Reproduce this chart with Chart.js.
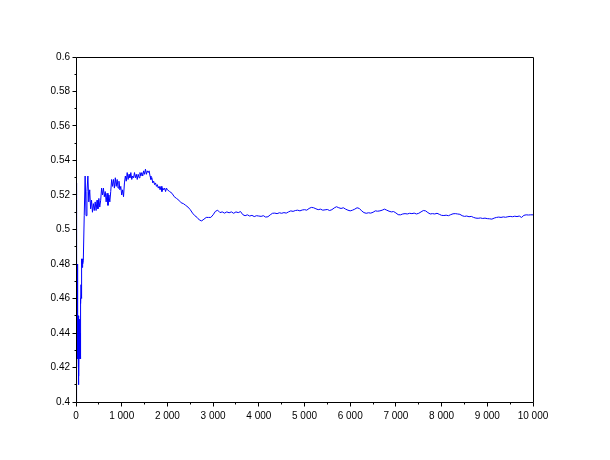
<!DOCTYPE html>
<html>
<head>
<meta charset="utf-8">
<script src="https://cdn.jsdelivr.net/npm/chart.js@4/dist/chart.umd.min.js"></script>
<style>
html,body{margin:0;padding:0;background:#fff;}
#wrap{width:610px;height:460px;}
</style>
</head>
<body>
<div id="wrap"><canvas id="c" width="610" height="460"></canvas></div>
<script>
// ---- data (running mean vs. iteration) ----
// segment 1: iterations 0..150, every 5
const startFrom = 0, startStep = 5;
const startValues = [
  0.39, 0.527, 0.43, 0.48, 0.42, 0.47, 0.43, 0.48, 0.425, 0.45,
  0.42, 0.41, 0.43, 0.415, 0.445, 0.425, 0.448, 0.43, 0.44, 0.425,
  0.46, 0.457, 0.468, 0.46, 0.483, 0.476, 0.482, 0.478, 0.483, 0.481,
  0.48
];
// segment 2: iterations 160..2000, every 20
const earlyFrom = 160, earlyStep = 20;
const earlyValues = [
  0.482, 0.508, 0.531, 0.508, 0.522, 0.531, 0.516, 0.523, 0.512, 0.517,
  0.510, 0.515, 0.511, 0.516, 0.511, 0.517, 0.512, 0.518, 0.513, 0.517,
  0.524, 0.520, 0.524, 0.519, 0.522, 0.516, 0.521, 0.514, 0.520, 0.516,
  0.522, 0.529, 0.525, 0.529, 0.524, 0.530, 0.525, 0.529, 0.524, 0.528,
  0.523, 0.525, 0.520, 0.523, 0.519, 0.527, 0.531, 0.528, 0.533, 0.529,
  0.532, 0.530, 0.533, 0.529, 0.531, 0.530, 0.533, 0.530, 0.532, 0.529,
  0.532, 0.530, 0.533, 0.531, 0.533, 0.531, 0.534, 0.532, 0.535, 0.532,
  0.534, 0.533, 0.534, 0.531, 0.529, 0.530, 0.527, 0.528, 0.526, 0.527,
  0.525, 0.526, 0.524, 0.525, 0.523, 0.525, 0.522, 0.524, 0.523, 0.524,
  0.522, 0.524, 0.523
];
// segment 3: iterations 2050..10000, every 50
const lateFrom = 2050, lateStep = 50;
const lateValues = [
  0.522, 0.521, 0.519, 0.518, 0.517, 0.5155, 0.515, 0.514, 0.513, 0.5115,
  0.5095, 0.508, 0.507, 0.5055, 0.505, 0.506, 0.507, 0.507, 0.507, 0.5085,
  0.5105, 0.5112, 0.5098, 0.5102, 0.5095, 0.5102, 0.5097, 0.5102, 0.5094, 0.5102,
  0.5098, 0.5104, 0.5086, 0.508, 0.5085, 0.5078, 0.5082, 0.5075, 0.508, 0.5078,
  0.5076, 0.508, 0.5072, 0.5074, 0.5085, 0.5094, 0.5095, 0.5092, 0.5097, 0.5094,
  0.5098, 0.5095, 0.5102, 0.5108, 0.5105, 0.511, 0.5112, 0.5108, 0.5113, 0.5115,
  0.5112, 0.5122, 0.5128, 0.5126, 0.512, 0.5115, 0.5118, 0.5112, 0.5114, 0.5116,
  0.511, 0.5115, 0.5125, 0.5132, 0.5126, 0.5122, 0.5126, 0.5118, 0.5112, 0.5108,
  0.5112, 0.5118, 0.5126, 0.5122, 0.5108, 0.5098, 0.5094, 0.5097, 0.5095, 0.51,
  0.5108, 0.5106, 0.5108, 0.5112, 0.5118, 0.5112, 0.5106, 0.5102, 0.5104, 0.5096,
  0.5086, 0.5085, 0.509, 0.5092, 0.509, 0.5094, 0.5092, 0.5095, 0.509, 0.5094,
  0.5102, 0.511, 0.5108, 0.5098, 0.509, 0.5092, 0.509, 0.5094, 0.5088, 0.5082,
  0.5081, 0.5083, 0.508, 0.5086, 0.5091, 0.5092, 0.509, 0.5088, 0.508, 0.5076,
  0.5078, 0.5074, 0.5076, 0.507, 0.5066, 0.5065, 0.5067, 0.5064, 0.5066, 0.5063,
  0.5062, 0.506, 0.5066, 0.507, 0.5072, 0.507, 0.5073, 0.5071, 0.5074, 0.5076,
  0.5074, 0.5077, 0.5075, 0.5078, 0.507, 0.5082, 0.5085, 0.5084, 0.5085, 0.5085
];
// axis ranges / ticks
const xMin = 0, xMax = 10000, xMajor = 1000, xMinor = 500;
const yMin = 0.4, yMax = 0.6, yMajor = 0.02, yMinor = 0.01;

// ---- build points ----
const points = [];
function addSeg(from, step, vals){ vals.forEach((v,i)=>points.push({x: from + i*step, y: v})); }
addSeg(startFrom, startStep, startValues);
addSeg(earlyFrom, earlyStep, earlyValues);
addSeg(lateFrom, lateStep, lateValues);

const FONT = {family: '"Liberation Sans", Arial, sans-serif', size: 10};
const fmtX = v => String(Math.round(v)).replace(/\B(?=(\d{3})+(?!\d))/g, ' ');
const fmtY = v => String(parseFloat(v.toFixed(2)));
const isMajorX = v => Math.abs(v/xMajor - Math.round(v/xMajor)) < 1e-6;
const isMajorY = v => Math.abs((v-yMin)/yMajor - Math.round((v-yMin)/yMajor)) < 1e-6;

const frameTicks = {
  id: 'frameTicks',
  afterDraw(chart){
    const {ctx, chartArea: a, scales} = chart;
    ctx.save();
    ctx.strokeStyle = '#000';
    ctx.lineWidth = 1;
    const L = Math.floor(a.left) + 0.5, R = Math.floor(a.right) + 0.5;
    const T = Math.floor(a.top) + 0.5, B = Math.floor(a.bottom) + 0.5;
    ctx.beginPath();
    ctx.rect(L, T, R - L, B - T);
    ctx.stroke();
    ctx.beginPath();
    scales.x.ticks.forEach(t => {
      const px = Math.floor(scales.x.getPixelForValue(t.value)) + 0.5;
      const len = isMajorX(t.value) ? 4 : 2;
      ctx.moveTo(px, B); ctx.lineTo(px, B + len);
    });
    scales.y.ticks.forEach(t => {
      const py = Math.floor(scales.y.getPixelForValue(t.value)) + 0.5;
      const len = isMajorY(t.value) ? 4 : 2;
      ctx.moveTo(L, py); ctx.lineTo(L - len, py);
    });
    ctx.stroke();
    ctx.restore();
  }
};

new Chart(document.getElementById('c'), {
  type: 'line',
  data: {
    datasets: [{
      data: points,
      borderColor: '#0000ff',
      borderWidth: 1,
      pointRadius: 0,
      tension: 0,
      fill: false
    }]
  },
  options: {
    responsive: false,
    animation: false,
    parsing: false,
    layout: {padding: {left: 0, top: 57, right: 77, bottom: 0}},
    plugins: {legend: {display: false}, tooltip: {enabled: false}},
    scales: {
      x: {
        type: 'linear', min: xMin, max: xMax,
        grid: {display: false, drawTicks: false},
        border: {display: false},
        ticks: {
          stepSize: xMinor, autoSkip: false, maxRotation: 0,
          padding: 8, color: '#000', font: FONT,
          callback: v => isMajorX(v) ? fmtX(v) : ''
        },
        afterFit: s => { s.height = 58; }
      },
      y: {
        type: 'linear', min: yMin, max: yMax,
        grid: {display: false, drawTicks: false},
        border: {display: false},
        ticks: {
          stepSize: yMinor, autoSkip: false,
          padding: 6, color: '#000', font: FONT,
          callback: v => isMajorY(v) ? fmtY(v) : ''
        },
        afterFit: s => { s.width = 76; }
      }
    }
  },
  plugins: [frameTicks]
});
</script>
</body>
</html>
